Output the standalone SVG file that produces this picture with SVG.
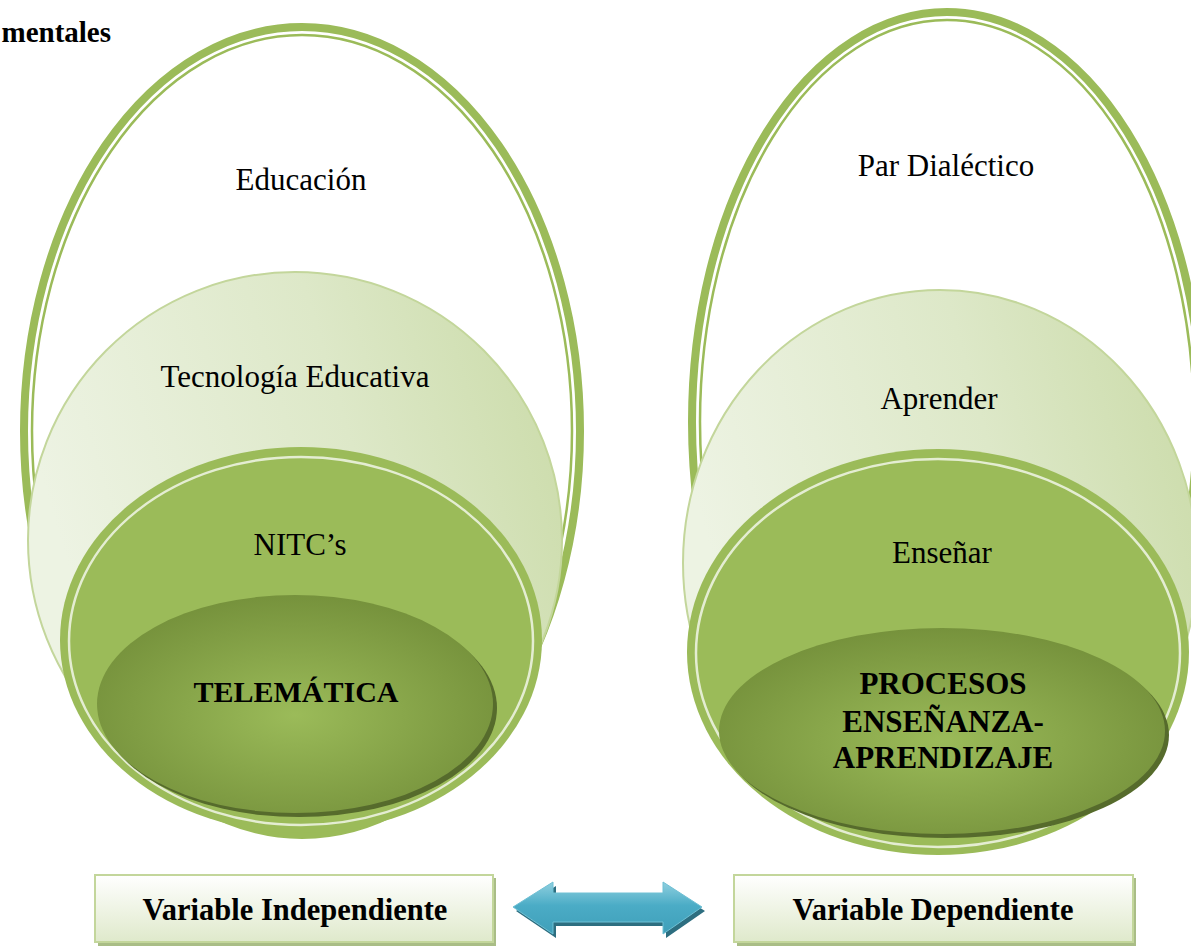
<svg xmlns="http://www.w3.org/2000/svg" width="1191" height="950" viewBox="0 0 1191 950">
<style>
.t{font-family:"Liberation Serif","Times New Roman",serif;font-size:31px;fill:#000;text-anchor:middle}
.b{font-weight:bold}
.ring{fill:none;stroke:#9bbb59}
.mid{fill:url(#gMid);stroke:#c3d69b;stroke-width:2}
.band{fill:#9bbb59}
.inl{fill:none;stroke:#e4edd2;stroke-width:2.5}
.core{fill:url(#gCore)}
.coresh{fill:#566b2c}
.box{fill:url(#gBox);stroke:#c3d69b;stroke-width:2}
.boxsh{fill:#a9bd86}
</style>
<defs>
<linearGradient id="gMid" x1="0" y1="0.3" x2="1" y2="0">
<stop offset="0" stop-color="#edf3e3"/>
<stop offset="0.55" stop-color="#dde8c8"/>
<stop offset="1" stop-color="#c9daa6"/>
</linearGradient>
<radialGradient id="gCore" cx="0.5" cy="0.55" r="0.55">
<stop offset="0" stop-color="#9bbb59"/>
<stop offset="1" stop-color="#76923c"/>
</radialGradient>
<linearGradient id="gBox" x1="0" y1="0" x2="0" y2="1">
<stop offset="0" stop-color="#ffffff"/>
<stop offset="1" stop-color="#dfe9cb"/>
</linearGradient>
<linearGradient id="gArrow" x1="0" y1="0" x2="0" y2="1">
<stop offset="0" stop-color="#8fcfdf"/>
<stop offset="0.45" stop-color="#4bacc6"/>
<stop offset="1" stop-color="#3f9fb9"/>
</linearGradient>
</defs>
<rect width="1191" height="950" fill="#ffffff"/>
<text class="t b" x="111" y="42" text-anchor="end" style="text-anchor:end;font-size:29px">mentales</text>

<g id="left-outer">
<ellipse cx="302" cy="431" rx="278" ry="404" fill="#ffffff" class="ring" stroke-width="8"/>
<ellipse cx="302" cy="431" rx="270" ry="396" class="ring" stroke-width="2.5"/>
<text class="t" x="301" y="190">Educación</text>
</g>
<g id="left-mid">
<ellipse class="mid" cx="295" cy="540" rx="267" ry="268"/>
<text class="t" x="295" y="387">Tecnología Educativa</text>
</g>
<g id="left-nitc">
<ellipse class="band" cx="301" cy="640" rx="241" ry="193"/>
<ellipse class="inl" cx="301" cy="641" rx="232" ry="184"/>
<text class="t" x="300" y="555">NITC’s</text>
</g>
<g id="left-core">
<ellipse class="coresh" cx="299" cy="708" rx="198" ry="109"/>
<ellipse class="core" cx="295" cy="704" rx="198" ry="109"/>
<text class="t b" x="296" y="702" style="font-size:30px">TELEMÁTICA</text>
</g>

<g id="right-outer">
<ellipse cx="947" cy="422" rx="255" ry="410" fill="#ffffff" class="ring" stroke-width="8"/>
<ellipse cx="947" cy="422" rx="247" ry="402" class="ring" stroke-width="2.5"/>
<text class="t" x="946" y="176">Par Dialéctico</text>
</g>
<g id="right-mid">
<ellipse class="mid" cx="940" cy="563" rx="257" ry="273"/>
<text class="t" x="939" y="409">Aprender</text>
</g>
<g id="right-ensenar">
<ellipse class="band" cx="938" cy="652" rx="251" ry="203"/>
<ellipse class="inl" cx="938" cy="653" rx="242" ry="194"/>
<text class="t" x="942" y="563">Enseñar</text>
</g>
<g id="right-core">
<ellipse class="coresh" cx="946" cy="735" rx="223" ry="103"/>
<ellipse class="core" cx="942" cy="731" rx="223" ry="103"/>
<text class="t b" x="943" y="694">PROCESOS</text>
<text class="t b" x="943" y="732">ENSEÑANZA-</text>
<text class="t b" x="943" y="768">APRENDIZAJE</text>
</g>

<g id="box-independiente">
<rect class="boxsh" x="98" y="878" width="398" height="68"/>
<rect class="box" x="95" y="875" width="398" height="67"/>
<text class="t b" x="295" y="920" style="font-size:30.5px">Variable Independiente</text>
</g>
<g id="box-dependiente">
<rect class="boxsh" x="737" y="878" width="399" height="68"/>
<rect class="box" x="734" y="875" width="399" height="67"/>
<text class="t b" x="933" y="920" style="font-size:30.5px">Variable Dependiente</text>
</g>

<g id="connectors">
<polygon fill="#2d6e80" transform="translate(3,4)" points="513,907 553,882 553,893 663,893 663,882 702,907 663,934 663,922 553,922 553,934"/>
<polygon fill="url(#gArrow)" stroke="#6fc0d4" stroke-width="1" points="513,907 553,882 553,893 663,893 663,882 702,907 663,934 663,922 553,922 553,934"/>
</g>
</svg>
